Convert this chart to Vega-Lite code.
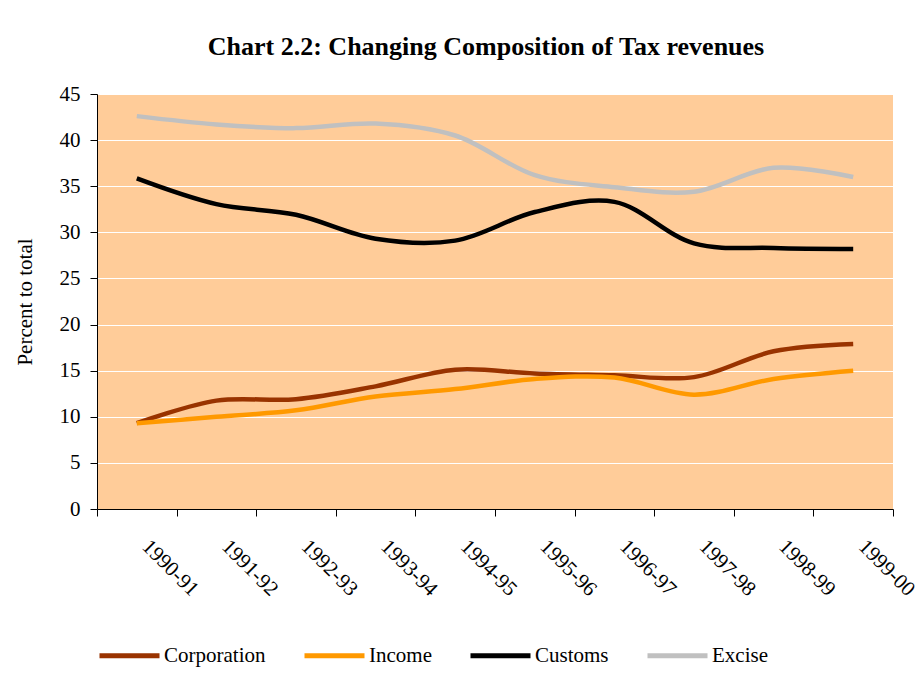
{
  "$schema": "https://vega.github.io/schema/vega-lite/v6.json",
  "autosize": "none",
  "width": 796,
  "height": 415,
  "padding": {"left": 97, "top": 94, "right": 23, "bottom": 175},
  "background": "white",
  "title": {
    "text": "Chart 2.2: Changing Composition of Tax revenues",
    "font": "Liberation Serif",
    "fontSize": 26,
    "fontWeight": "bold",
    "color": "#000000",
    "anchor": "middle",
    "frame": "group",
    "baseline": "alphabetic",
    "offset": 2,
    "dx": -9
  },
  "config": {
    "view": {"fill": "#FFCC99", "stroke": null},
    "font": "Liberation Serif"
  },
  "data": {
    "values": [
      {"year": "1990-91", "series": "Corporation", "value": 9.3},
      {"year": "1991-92", "series": "Corporation", "value": 11.75},
      {"year": "1992-93", "series": "Corporation", "value": 11.9},
      {"year": "1993-94", "series": "Corporation", "value": 13.3},
      {"year": "1994-95", "series": "Corporation", "value": 15.1},
      {"year": "1995-96", "series": "Corporation", "value": 14.7},
      {"year": "1996-97", "series": "Corporation", "value": 14.5},
      {"year": "1997-98", "series": "Corporation", "value": 14.3},
      {"year": "1998-99", "series": "Corporation", "value": 17.1},
      {"year": "1999-00", "series": "Corporation", "value": 17.9},
      {"year": "1990-91", "series": "Income", "value": 9.3},
      {"year": "1991-92", "series": "Income", "value": 10.0},
      {"year": "1992-93", "series": "Income", "value": 10.7},
      {"year": "1993-94", "series": "Income", "value": 12.2},
      {"year": "1994-95", "series": "Income", "value": 13.0},
      {"year": "1995-96", "series": "Income", "value": 14.1},
      {"year": "1996-97", "series": "Income", "value": 14.25},
      {"year": "1997-98", "series": "Income", "value": 12.4},
      {"year": "1998-99", "series": "Income", "value": 14.1},
      {"year": "1999-00", "series": "Income", "value": 15.0},
      {"year": "1990-91", "series": "Customs", "value": 35.85},
      {"year": "1991-92", "series": "Customs", "value": 33.06},
      {"year": "1992-93", "series": "Customs", "value": 31.9},
      {"year": "1993-94", "series": "Customs", "value": 29.3},
      {"year": "1994-95", "series": "Customs", "value": 29.1},
      {"year": "1995-96", "series": "Customs", "value": 32.2},
      {"year": "1996-97", "series": "Customs", "value": 33.3},
      {"year": "1997-98", "series": "Customs", "value": 28.8},
      {"year": "1998-99", "series": "Customs", "value": 28.3},
      {"year": "1999-00", "series": "Customs", "value": 28.2},
      {"year": "1990-91", "series": "Excise", "value": 42.6},
      {"year": "1991-92", "series": "Excise", "value": 41.7},
      {"year": "1992-93", "series": "Excise", "value": 41.3},
      {"year": "1993-94", "series": "Excise", "value": 41.8},
      {"year": "1994-95", "series": "Excise", "value": 40.5},
      {"year": "1995-96", "series": "Excise", "value": 36.2},
      {"year": "1996-97", "series": "Excise", "value": 34.9},
      {"year": "1997-98", "series": "Excise", "value": 34.4},
      {"year": "1998-99", "series": "Excise", "value": 37.0},
      {"year": "1999-00", "series": "Excise", "value": 36.0}
    ]
  },
  "mark": {"type": "line", "interpolate": "catmull-rom", "strokeWidth": 4.5, "strokeCap": "butt"},
  "encoding": {
    "x": {
      "field": "year",
      "type": "nominal",
      "bandPosition": 0.5,
      "scale": {"type": "band", "paddingInner": 0, "paddingOuter": 0},
      "axis": {
        "title": null,
        "tickBand": "extent",
        "labelAngle": 45,
        "labelAlign": "left",
        "labelBaseline": "middle",
        "labelPadding": 27,
        "labelOffset": 8,
        "labelFontSize": 21,
        "labelFont": "Liberation Serif",
        "labelColor": "#000000",
        "tickSize": 7,
        "tickColor": "#000000",
        "domainColor": "#000000",
        "grid": false
      }
    },
    "y": {
      "field": "value",
      "type": "quantitative",
      "scale": {"domain": [0, 45], "nice": false},
      "axis": {
        "title": "Percent to total",
        "titleFont": "Liberation Serif",
        "titleFontSize": 21,
        "titleFontWeight": "normal",
        "titleColor": "#000000",
        "titlePadding": 24,
        "values": [0, 5, 10, 15, 20, 25, 30, 35, 40, 45],
        "labelFontSize": 21,
        "labelFont": "Liberation Serif",
        "labelColor": "#000000",
        "labelPadding": 10,
        "tickSize": 7,
        "tickColor": "#000000",
        "domainColor": "#000000",
        "gridColor": "#FFFFFF",
        "gridWidth": 1,
        "gridOpacity": 1
      }
    },
    "color": {
      "field": "series",
      "type": "nominal",
      "scale": {
        "domain": ["Corporation", "Income", "Customs", "Excise"],
        "range": ["#993300", "#FF9900", "#000000", "#C0C0C0"]
      },
      "legend": {
        "title": null,
        "orient": "none",
        "direction": "horizontal",
        "legendX": 0,
        "legendY": 529,
        "symbolType": "stroke",
        "symbolSize": 3600,
        "symbolStrokeWidth": 5,
        "labelFont": "Liberation Serif",
        "labelFontSize": 21,
        "labelColor": "#000000",
        "labelOffset": 2,
        "columnPadding": 28
      }
    }
  }
}
